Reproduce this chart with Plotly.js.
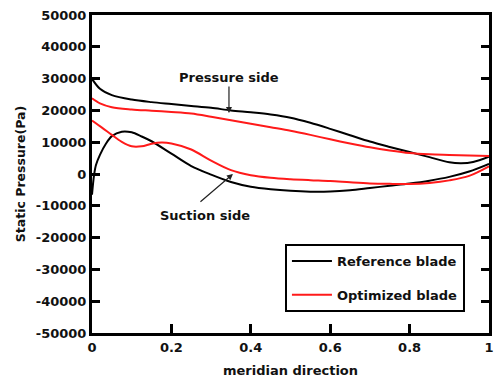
<!DOCTYPE html>
<html>
<head>
<meta charset="utf-8">
<script src="https://cdn.plot.ly/plotly-3.0.1.min.js"></script>
<style>html,body{margin:0;padding:0;background:#fff;}#chart{width:500px;height:381px;}</style>
</head>
<body>
<div id="chart"></div>
<script>
// Reference blade, pressure side
const refPsX = [0, 0.02, 0.05, 0.1, 0.15, 0.2, 0.25, 0.3, 0.35, 0.4, 0.45, 0.5, 0.55, 0.6, 0.65, 0.7, 0.75, 0.8, 0.85, 0.9, 0.93, 0.96, 1.0];
const refPsY = [29900, 26800, 24800, 23400, 22600, 22000, 21400, 20800, 20000, 19400, 18700, 17700, 16100, 14200, 12200, 10200, 8500, 6900, 5300, 3700, 3400, 3800, 5450];
// Reference blade, suction side
const refSsX = [0, 0.005, 0.01, 0.02, 0.035, 0.05, 0.075, 0.1, 0.125, 0.15, 0.2, 0.25, 0.3, 0.35, 0.4, 0.45, 0.5, 0.55, 0.6, 0.65, 0.7, 0.75, 0.8, 0.85, 0.9, 0.95, 1.0];
const refSsY = [-6500, -500, 2800, 6000, 9500, 11900, 13300, 13100, 11800, 10300, 6400, 2500, -200, -2500, -4000, -4800, -5300, -5550, -5500, -5100, -4400, -3700, -3000, -2100, -900, 800, 3200];
// Optimized blade, pressure side
const optPsX = [0, 0.02, 0.05, 0.1, 0.15, 0.2, 0.25, 0.3, 0.35, 0.4, 0.45, 0.5, 0.55, 0.6, 0.65, 0.7, 0.75, 0.8, 0.85, 0.9, 0.95, 1.0];
const optPsY = [23800, 22200, 21000, 20300, 19900, 19500, 19000, 18000, 16900, 15800, 14700, 13600, 12300, 10900, 9600, 8400, 7400, 6600, 6200, 6000, 5800, 5650];
// Optimized blade, suction side
const optSsX = [0, 0.025, 0.05, 0.075, 0.1, 0.125, 0.15, 0.175, 0.2, 0.25, 0.3, 0.35, 0.4, 0.45, 0.5, 0.55, 0.6, 0.65, 0.7, 0.75, 0.8, 0.85, 0.9, 0.95, 1.0];
const optSsY = [16800, 14600, 12300, 10100, 8700, 8700, 9500, 9900, 9600, 7700, 4200, 1200, -400, -1200, -1650, -1950, -2200, -2600, -2950, -3100, -3150, -2800, -2000, -600, 2400];

const xTicks = [0, 0.2, 0.4, 0.6, 0.8, 1];
const xTickText = ['0', '0.2', '0.4', '0.6', '0.8', '1'];
const yTicks = [-50000, -40000, -30000, -20000, -10000, 0, 10000, 20000, 30000, 40000, 50000];
const yTickText = ['-50000', '-40000', '-30000', '-20000', '-10000', '0', '10000', '20000', '30000', '40000', '50000'];

const FONT = 'DejaVu Sans';
const lineStyle = (c) => ({color: c, width: 2, shape: 'spline', smoothing: 0.9});

const traces = [
  {x: refPsX, y: refPsY, mode: 'lines', name: 'Reference blade', line: lineStyle('#000000'), legendgroup: 'a'},
  {x: refSsX, y: refSsY, mode: 'lines', name: 'Reference blade', line: lineStyle('#000000'), showlegend: false, legendgroup: 'a'},
  {x: optPsX, y: optPsY, mode: 'lines', name: 'Optimized blade', line: lineStyle('#ff1a1a'), legendgroup: 'b'},
  {x: optSsX, y: optSsY, mode: 'lines', name: 'Optimized blade', line: lineStyle('#ff1a1a'), showlegend: false, legendgroup: 'b'}
];

const layout = {
  width: 500, height: 381,
  margin: {l: 92, r: 11, t: 15, b: 48},
  paper_bgcolor: '#ffffff', plot_bgcolor: '#ffffff',
  font: {family: FONT, size: 13, color: '#111111', weight: 'bold'},
  showlegend: true,
  legend: {
    x: 0.486, y: 0.28, xanchor: 'left', yanchor: 'top',
    bgcolor: '#ffffff', bordercolor: '#000000', borderwidth: 2,
    font: {family: FONT, size: 13, color: '#111111', weight: 'bold'},
    tracegroupgap: 14, itemwidth: 40
  },
  xaxis: {
    range: [0, 1], tickvals: xTicks, ticktext: xTickText,
    ticks: 'inside', ticklen: 9, tickwidth: 3, tickcolor: '#000',
    showline: true, linewidth: 3, linecolor: '#000', mirror: true,
    showgrid: false, zeroline: false, automargin: false,
    tickfont: {family: FONT, size: 13, color: '#111', weight: 'bold'},
    title: {text: 'meridian direction', font: {family: FONT, size: 13, color: '#111', weight: 'bold'}, standoff: 13}
  },
  yaxis: {
    range: [-50000, 50000], tickvals: yTicks, ticktext: yTickText,
    ticks: 'inside', ticklen: 8, tickwidth: 3, tickcolor: '#000',
    showline: true, linewidth: 3, linecolor: '#000', mirror: 'ticks',
    showgrid: false, zeroline: false, automargin: false,
    tickfont: {family: FONT, size: 13, color: '#111', weight: 'bold'},
    title: {text: 'Static Pressure(Pa)', font: {family: FONT, size: 12.5, color: '#111', weight: 'bold'}, standoff: 8}
  },
  annotations: [
    {x: 0.345, y: 30500, xref: 'x', yref: 'y', text: 'Pressure side', showarrow: false,
     font: {family: FONT, size: 13, color: '#111', weight: 'bold'}},
    {x: 0.345, y: 19200, xref: 'x', yref: 'y', ax: 0, ay: -28, text: '', showarrow: true,
     arrowhead: 2, arrowsize: 1, arrowwidth: 1.2, arrowcolor: '#222'},
    {x: 0.285, y: -13000, xref: 'x', yref: 'y', text: 'Suction side', showarrow: false,
     font: {family: FONT, size: 13, color: '#111', weight: 'bold'}},
    {x: 0.355, y: 0, xref: 'x', yref: 'y', ax: -34, ay: 29, text: '', showarrow: true,
     arrowhead: 2, arrowsize: 1, arrowwidth: 1.2, arrowcolor: '#222'}
  ]
};

Plotly.newPlot('chart', traces, layout, {displayModeBar: false, staticPlot: true});
</script>
</body>
</html>
